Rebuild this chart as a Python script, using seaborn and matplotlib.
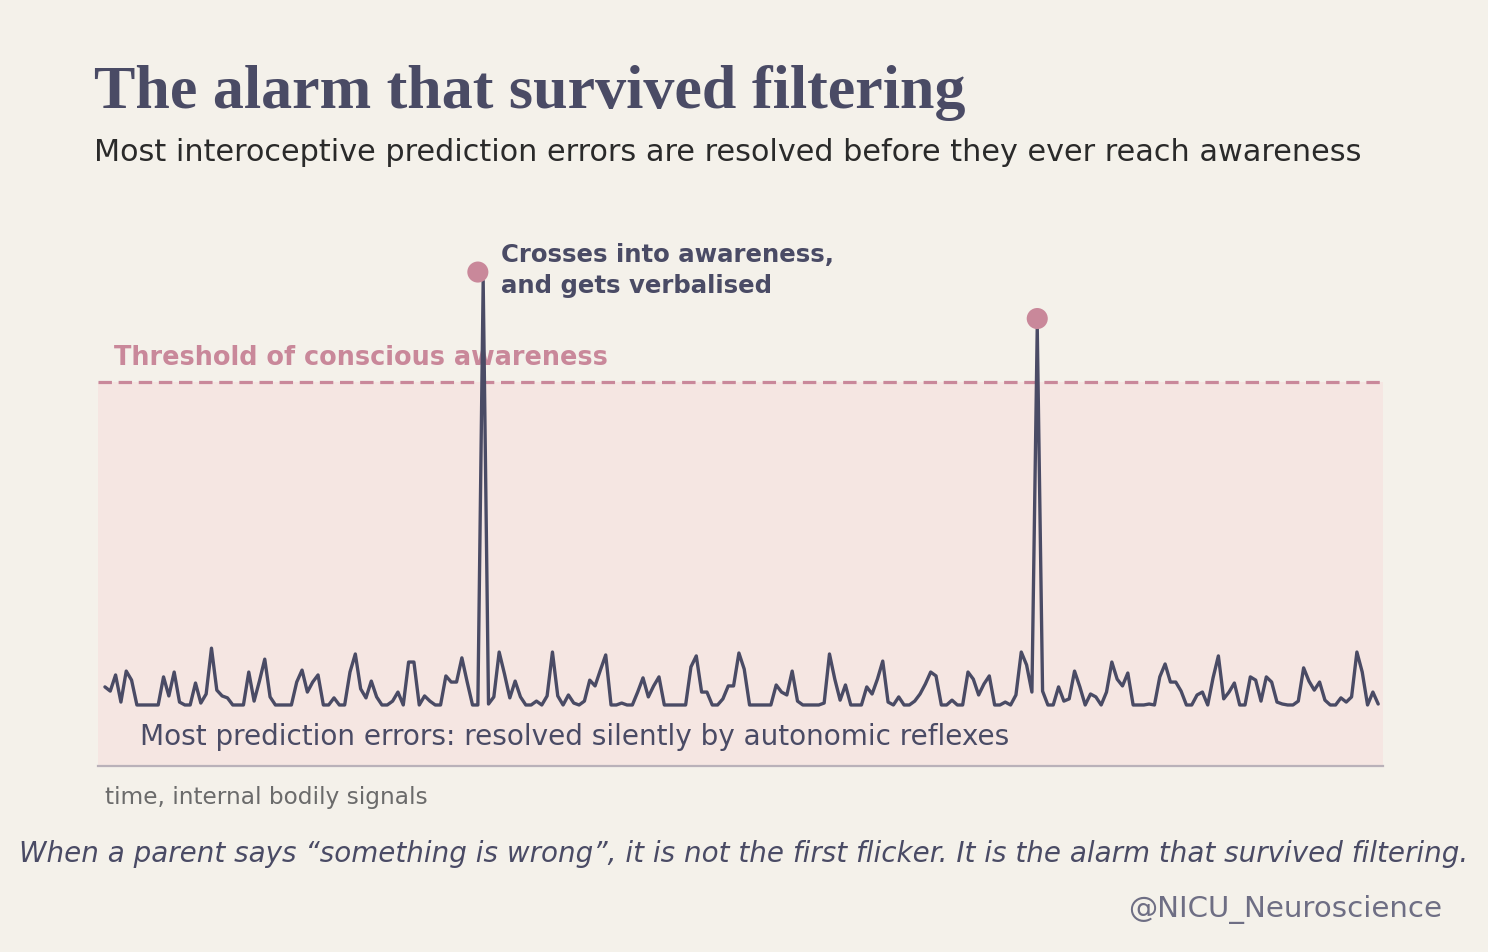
import matplotlib
matplotlib.use("Agg")
import matplotlib.pyplot as plt
import pandas as pd
import seaborn as sns

# signal strength, arbitrary units (threshold of awareness = 100)
signal = [
    5.6, 4.3, 9.3, 0.9, 10.5, 7.7, 0, 0, 0, 0,
    0, 8.7, 2.8, 10.2, 0.9, 0, 0, 6.8, 0.6, 3.4,
    17.6, 4.6, 2.8, 2.2, 0, 0, 0, 10.2, 1.2, 7.4,
    14.2, 2.5, 0, 0, 0, 0, 7.1, 10.8, 4.0, 7.1,
    9.3, 0, 0, 2.2, 0, 0, 10.2, 15.8, 5.0, 2.2,
    7.4, 2.5, 0, 0, 1.2, 4.0, 0, 13.3, 13.3, 0,
    2.8, 1.2, 0, 0, 9.0, 7.1, 7.1, 14.6, 7.1, 0,
    0, 131.3, 0.3, 2.5, 16.4, 9.6, 2.2, 7.4, 2.5, 0,
    0, 1.2, 0, 2.8, 16.4, 2.8, 0, 3.1, 0.6, 0,
    1.2, 7.7, 5.9, 10.8, 15.5, 0, 0, 0.6, 0, 0,
    4.0, 8.4, 2.5, 5.9, 8.7, 0, 0, 0, 0, 0,
    11.8, 15.2, 4.0, 4.0, 0, 0, 1.9, 5.9, 5.9, 16.1,
    11.1, 0, 0, 0, 0, 0, 6.2, 4.0, 3.1, 10.5,
    1.2, 0, 0, 0, 0, 0.6, 15.8, 8.0, 1.5, 6.2,
    0, 0, 0, 5.6, 3.4, 8.0, 13.6, 0.9, 0, 2.5,
    0, 0, 1.2, 3.4, 6.5, 10.2, 9.0, 0, 0, 1.5,
    0, 0, 10.2, 8.0, 3.1, 6.5, 9.0, 0, 0, 0.9,
    0, 3.1, 16.4, 12.4, 4.0, 117.0, 4.3, 0, 0, 5.6,
    1.2, 1.9, 10.5, 5.6, 0, 3.4, 2.5, 0, 4.0, 13.3,
    8.0, 5.9, 9.9, 0, 0, 0, 0.3, 0, 8.7, 12.7,
    7.1, 7.1, 4.3, 0, 0, 3.1, 4.0, 0, 8.4, 15.2,
    1.9, 4.0, 6.8, 0, 0, 8.7, 7.7, 1.2, 8.7, 7.1,
    0.9, 0.3, 0, 0, 1.2, 11.5, 7.4, 4.6, 7.1, 1.5,
    0, 0, 2.2, 0.9, 2.5, 16.4, 10.2, 0, 4.0, 0.3,
]
alarm_t = [70, 175]
alarm_v = [134.1, 119.7]
threshold = 100

title = "The alarm that survived filtering"
subtitle = "Most interoceptive prediction errors are resolved before they ever reach awareness"
alarm_label = "Crosses into awareness,\nand gets verbalised"
threshold_label = "Threshold of conscious awareness"
silent_label = "Most prediction errors: resolved silently by autonomic reflexes"
x_label = "time, internal bodily signals"
footer = "When a parent says \u201csomething is wrong\u201d, it is not the first flicker. It is the alarm that survived filtering."
handle = "@NICU_Neuroscience"

BG = "#f4f1ea"
FILL = "#f5e6e2"
INK = "#4a4b65"
PINK = "#c9889a"

sns.set_theme(style="white")
plt.rcParams["font.family"] = ["DejaVu Sans"]

df = pd.DataFrame({"t": range(len(signal)), "signal": signal})

W, H = 1488, 953
fig = plt.figure(figsize=(W / 100, H / 100), dpi=100, facecolor=BG)
ax = fig.add_axes([98 / W, 1 - 767 / H, 1285 / W, 513 / H])
ax.set_facecolor(BG)

ymin, ymax = -18.9, 140
ax.axhspan(ymin, threshold, color=FILL, lw=0, zorder=0)
ax.axhline(threshold, color=PINK, lw=2.3, dashes=(4.2, 2.1), zorder=1)

sns.lineplot(data=df, x="t", y="signal", ax=ax, color=INK, lw=2.4, zorder=3)
sns.scatterplot(x=alarm_t, y=alarm_v, ax=ax, s=230, color=PINK, edgecolor="none", zorder=4)

ax.set_xlim(-1.3, 239.9)
ax.set_ylim(ymin, ymax)
ax.set_xlabel("")
ax.set_ylabel("")
ax.set_xticks([])
ax.set_yticks([])
for side in ["top", "left", "right"]:
    ax.spines[side].set_visible(False)
ax.spines["bottom"].set_color("#b9b1b9")
ax.spines["bottom"].set_linewidth(1.6)

renderer = fig.canvas.get_renderer()


def fit(t, width_px):
    w = t.get_window_extent(renderer=renderer).width
    t.set_fontsize(t.get_fontsize() * width_px / w)


t = fig.text(94 / W, 1 - 108 / H, title, fontsize=44, color=INK, weight="bold",
             family=["Liberation Serif", "DejaVu Serif"], va="baseline")
fit(t, 872)
t = fig.text(94 / W, 1 - 161 / H, subtitle, fontsize=20, color="#2a2a2a", va="baseline")
fit(t, 1264)

# baseline of the last line sits at the anchor
t = ax.text(74.3, 127.9, alarm_label, fontsize=17, color=INK, weight="bold",
            va="baseline", linespacing=1.38, zorder=5)
fit(t, 335)
t = ax.text(1.7, 105.6, threshold_label, fontsize=18, color=PINK, weight="bold",
            va="baseline", zorder=2)
fit(t, 494)
t = ax.text(6.6, -12.1, silent_label, fontsize=18, color=INK, va="baseline", zorder=2)
fit(t, 870)

t = fig.text(105 / W, 1 - 804 / H, x_label, fontsize=15, color="#6b6b6b", va="baseline")
fit(t, 323)
t = fig.text(0.5, 1 - 862 / H, footer, fontsize=18, color=INK, style="italic",
             ha="center", va="baseline")
fit(t, 1450)
t = fig.text(1442 / W, 1 - 917 / H, handle, fontsize=17, color="#6e6e84",
             ha="right", va="baseline")
fit(t, 315)

fig.savefig("out.png", dpi=100, facecolor=BG)
